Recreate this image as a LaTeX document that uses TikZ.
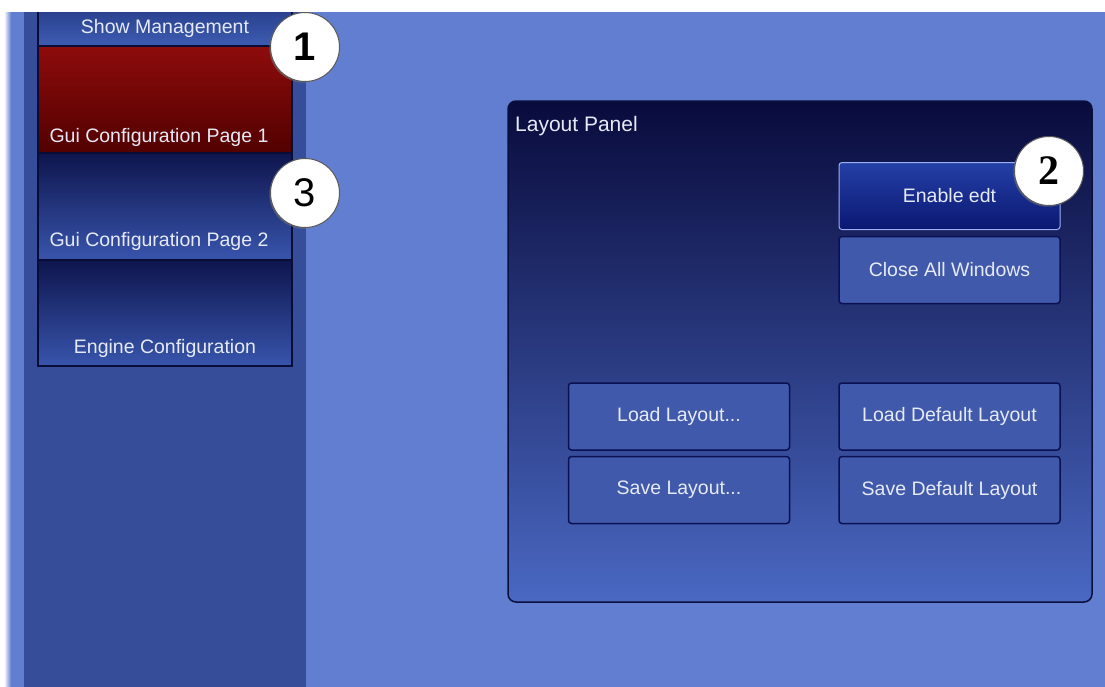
\documentclass[tikz,border=0pt]{standalone}
\usepackage{fontspec}
\setmainfont{Liberation Sans}
\newfontfamily\serifdigits{Liberation Serif}
\usetikzlibrary{shadows}

\definecolor{bgblue}{HTML}{627ED0}
\definecolor{sidebar}{HTML}{364E9A}
\definecolor{smTop}{HTML}{2A4290}
\definecolor{smBot}{HTML}{3E5CB2}
\definecolor{redTop}{HTML}{8E0C0C}
\definecolor{redBot}{HTML}{520000}
\definecolor{navyTop}{HTML}{0E154D}
\definecolor{navyBot}{HTML}{3855AC}
\definecolor{panTop}{HTML}{090B3C}
\definecolor{panMid}{HTML}{1C2670}
\definecolor{panBot}{HTML}{4A68C2}
\definecolor{panEdge}{HTML}{0A0F3E}
\definecolor{enTop}{HTML}{2440A6}
\definecolor{enBot}{HTML}{0B1772}
\definecolor{enEdge}{HTML}{9AB0F5}
\definecolor{btnFill}{HTML}{4159AA}
\definecolor{btnEdge}{HTML}{0B1152}
\definecolor{tabEdge}{HTML}{0A0C38}
\definecolor{uitext}{HTML}{E6EAF6}

\begin{document}
\begin{tikzpicture}[x=1pt,y=-1pt,
  uifont/.style={font=\fontsize{19.5}{22}\selectfont, text=uitext},
  tabtext/.style={uifont, anchor=base, inner sep=0pt},
  tab/.style={draw=tabEdge, line width=1.2pt},
  panelbtn/.style={rectangle, rounded corners=3pt, minimum width=221pt,
    minimum height=67pt, inner sep=0pt, uifont},
  plainbtn/.style={panelbtn, fill=btnFill, draw=btnEdge, line width=1.5pt},
  callout/.style={circle, fill=white, draw=black!65, line width=1pt,
    minimum size=69pt, inner sep=0pt, text=black,
    drop shadow={shadow xshift=-1.2pt, shadow yshift=-1.2pt, opacity=0.45}}]

\useasboundingbox (0,0) rectangle (1105,686);

% page background (fills run past the page edge so no seam shows)
\fill[white] (-5,-5) rectangle (1110,692);
\fill[bgblue] (10,12) rectangle (1110,692);
\shade[left color=white, right color=bgblue] (4,12) rectangle (11,692);
\fill[sidebar] (24,12) rectangle (306,692);

% navigation tabs
\shade[top color=smTop, bottom color=smBot] (38,12) rectangle (292,46);
\draw[tab] (38,12) -- (38,46) -- (292,46) -- (292,12);
\shade[top color=redTop, bottom color=redBot] (38,46) rectangle (292,153);
\draw[tab] (38,46) rectangle (292,153);
\shade[top color=navyTop, bottom color=navyBot] (38,153) rectangle (292,260);
\draw[tab] (38,153) rectangle (292,260);
\shade[top color=navyTop, bottom color=navyBot] (38,260) rectangle (292,366);
\draw[tab] (38,260) rectangle (292,366);

\node[tabtext] (showmgmt) at (165,33) {Show Management};
\node[tabtext] (guipage1) at (159,142) {Gui Configuration Page 1};
\node[tabtext] (guipage2) at (159,246) {Gui Configuration Page 2};
\node[tabtext] (engine) at (165,353) {Engine Configuration};

% layout panel
\node[rectangle, rounded corners=8pt, minimum width=584pt, minimum height=501pt,
  top color=panTop, middle color=panMid, bottom color=panBot,
  draw=panEdge, line width=1.5pt] (panel) at (800,351.5) {};
\node[uifont, font=\fontsize{21}{24}\selectfont, anchor=base west, inner sep=0pt]
  (paneltitle) at (515,131) {Layout Panel};

% panel buttons
\node[panelbtn, top color=enTop, bottom color=enBot, draw=enEdge, line width=1pt]
  (enable) at (949.5,196) {Enable edt};
\node[plainbtn] (closeall) at (949.5,270) {Close All Windows};
\node[plainbtn] (loadlayout) at (679,416.5) {Load Layout...};
\node[plainbtn] (savelayout) at (679,490) {Save Layout...};
\node[plainbtn] (loaddefault) at (949.5,416.5) {Load Default Layout};
\node[plainbtn] (savedefault) at (949.5,490) {Save Default Layout};

% numbered callouts
\node[callout, font=\fontsize{40}{40}\selectfont\bfseries] (one) at (305,47) {1};
\node[callout, font=\fontsize{40}{40}\selectfont] (three) at (305,193) {3};
\node[callout, font=\serifdigits\fontsize{42}{42}\selectfont\bfseries] (two) at (1049,171) {2};

\end{tikzpicture}
\end{document}
